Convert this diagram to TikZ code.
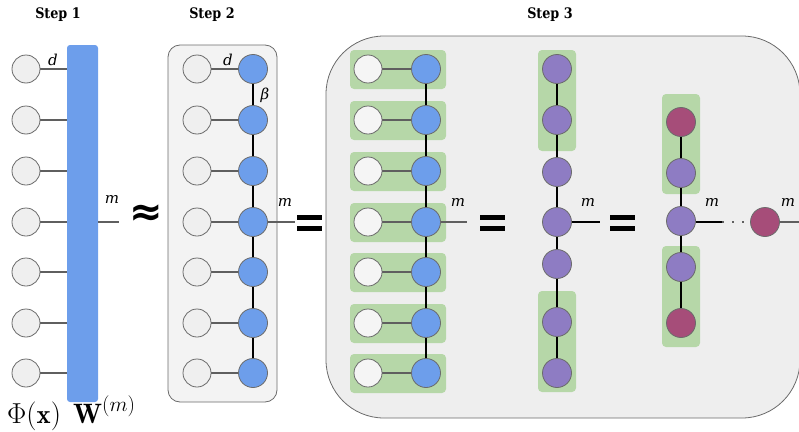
\documentclass[tikz,border=0pt]{standalone}
\usepackage{graphicx}
\usepackage{fontspec}
\usepackage{amsmath}
\newfontfamily\stepfont{DejaVu Serif}[FakeStretch=0.88]
\newfontfamily\labfont{DejaVu Serif}
\newfontfamily\symfont{DejaVu Sans}
\definecolor{cblue}{HTML}{6D9EEB}
\definecolor{cpurple}{HTML}{8E7CC3}
\definecolor{cmaroon}{HTML}{A64D79}
\definecolor{cgreen}{HTML}{B6D7A8}
\definecolor{cgrayfill}{HTML}{EFEFEF}
\definecolor{cwhitefill}{HTML}{F5F5F5}
\definecolor{cbox2}{HTML}{F3F3F3}
\definecolor{cbox3}{HTML}{EEEEEE}
\definecolor{cborder}{HTML}{6B6B6B}
\definecolor{cline}{HTML}{5F5F5F}
\pgfdeclarelayer{bg}
\pgfdeclarelayer{green}
\pgfdeclarelayer{lines}
\pgfsetlayers{bg,green,lines,main}
\begin{document}
\begin{tikzpicture}[x=1pt,y=-1pt,
  circ/.style={circle, draw=cborder, line width=0.8pt, inner sep=0pt, minimum size=29pt},
  gc/.style={circ, fill=cgrayfill, minimum size=28pt},
  wc/.style={circ, fill=cwhitefill, minimum size=28pt},
  bc/.style={circ, fill=cblue},
  pc/.style={circ, fill=cpurple},
  mc/.style={circ, fill=cmaroon},
  gl/.style={draw=cline, line width=2pt},
  bl/.style={draw=black, line width=2.3pt},
  dl/.style={draw=cline, line width=2pt, dash pattern=on 2pt off 8pt},
  greenbox/.style={fill=cgreen, draw=none, rounded corners=4pt, inner sep=0pt},
  lab/.style={font=\labfont\itshape\fontsize{15}{15}\selectfont, inner sep=0pt, anchor=base},
  steplab/.style={font=\stepfont\bfseries\fontsize{14.5}{14.5}\selectfont, inner sep=0pt},
  eqsign/.pic={\fill (-12.5,-8) rectangle (12.5,-3); \fill (-12.5,3) rectangle (12.5,8);}
]
\useasboundingbox (0,0) rectangle (799,431);

% ---------- titles ----------
\node[steplab] (t1) at (58,15) {Step 1};
\node[steplab] (t2) at (212,15) {Step 2};
\node[steplab] (t3) at (550,15) {Step 3};

% ---------- Step 1 ----------
\node[fill=cblue, draw=none, rounded corners=3pt, minimum width=31pt, minimum height=357pt, inner sep=0pt] (W) at (82.5,223.5) {};
\foreach \i/\y in {1/69,2/120,3/171,4/222,5/272,6/323,7/373}{
  \node[gc] (a\i) at (26,\y) {};
  \begin{pgfonlayer}{lines}
    \draw[gl] (a\i) -- (a\i -| W.west);
  \end{pgfonlayer}
}
\coordinate (o1) at (119,222);
\draw[gl] (W.east |- o1) -- (o1);
\node[lab] (d1) at (53,65) {d};
\node[lab] (m1) at (112,203) {m};
\node[inner sep=0pt, anchor=base west, font=\fontsize{23}{23}\selectfont] (phi) at (7,423) {\scalebox{1.16}{$\Phi(\mathbf{x})$}};
\node[inner sep=0pt, anchor=base west, font=\fontsize{23}{23}\selectfont] (wm) at (73,423) {\scalebox{1.22}{$\mathbf{W}^{(m)}$}};
\node[inner sep=0pt, font=\symfont\bfseries\fontsize{40}{40}\selectfont] (apx) at (146,215) {≈};

% ---------- Step 2 ----------
\begin{pgfonlayer}{bg}
\node[fill=cbox2, draw=cborder, line width=0.8pt, rounded corners=12pt, minimum width=109pt, minimum height=357pt, inner sep=0pt] (S2) at (222.5,223.5) {};
\end{pgfonlayer}
\foreach \i/\y in {1/69,2/120,3/171,4/222,5/272,6/323,7/373}{
  \node[gc] (b\i) at (197,\y) {};
  \node[bc] (c\i) at (253,\y) {};
  \begin{pgfonlayer}{lines}
    \draw[gl] (b\i) -- (c\i);
  \end{pgfonlayer}
}
\begin{pgfonlayer}{lines}
\foreach \i/\j in {1/2,2/3,3/4,4/5,5/6,6/7} \draw[bl] (c\i) -- (c\j);
\coordinate (o2) at (295,222);
\draw[gl] (c4) -- (o2);
\end{pgfonlayer}
\node[lab] (d2) at (228,65) {d};
\node[lab] (beta) at (265,99) {β};
\node[lab] (m2) at (285,206) {m};
\pic[black] at (309.5,222.5) {eqsign};

% ---------- Step 3 ----------
\begin{pgfonlayer}{bg}
\node[fill=cbox3, draw=cborder, line width=0.8pt, rounded corners=58pt, minimum width=474pt, minimum height=382pt, inner sep=0pt] (S3) at (563,227) {};
\end{pgfonlayer}
\foreach \i/\y in {1/69,2/120,3/171,4/222,5/272,6/323,7/373}{
  \begin{pgfonlayer}{green}
    \node[greenbox, minimum width=96pt, minimum height=39pt] (g\i) at (398,\y+0.5) {};
  \end{pgfonlayer}
  \node[wc] (e\i) at (368,\y) {};
  \node[bc] (f\i) at (426,\y) {};
  \begin{pgfonlayer}{lines}
    \draw[gl] (e\i) -- (f\i);
  \end{pgfonlayer}
}
\begin{pgfonlayer}{lines}
\foreach \i/\j in {1/2,2/3,3/4,4/5,5/6,6/7} \draw[bl] (f\i) -- (f\j);
\coordinate (o3) at (467,222);
\draw[gl] (f4) -- (o3);
\end{pgfonlayer}
\node[lab] (m3) at (458,206) {m};
\pic[black] at (492.5,222.5) {eqsign};

% purple column
\begin{pgfonlayer}{green}
\node[greenbox, minimum width=38pt, minimum height=101pt] (gp1) at (557,100.5) {};
\node[greenbox, minimum width=38pt, minimum height=101pt] (gp2) at (557,341.5) {};
\end{pgfonlayer}
\foreach \i/\y in {1/69,2/120,3/172,4/222,5/264,6/322,7/373}{
  \node[pc] (p\i) at (557,\y) {};
}
\begin{pgfonlayer}{lines}
\foreach \i/\j in {1/2,2/3,3/4,4/5,5/6,6/7} \draw[bl] (p\i) -- (p\j);
\coordinate (o4) at (600,222);
\draw[bl] (p4) -- (o4);
\end{pgfonlayer}
\node[lab] (m4) at (588,206) {m};
\pic[black] at (622.5,222.5) {eqsign};

% third column
\begin{pgfonlayer}{green}
\node[greenbox, minimum width=38pt, minimum height=100pt] (gq1) at (681,144) {};
\node[greenbox, minimum width=38pt, minimum height=101pt] (gq2) at (681,296.5) {};
\end{pgfonlayer}
\node[mc] (q1) at (681,122) {};
\node[pc] (q2) at (681,173) {};
\node[pc] (q3) at (681,221) {};
\node[pc] (q4) at (681,267) {};
\node[mc] (q5) at (681,323) {};
\node[mc] (r) at (765,222) {};
\begin{pgfonlayer}{lines}
\foreach \i/\j in {1/2,2/3,3/4,4/5} \draw[bl] (q\i) -- (q\j);
\coordinate (o5) at (722,222);
\coordinate (o6) at (799,222);
\draw[bl] (q3.east |- o5) -- (o5);
\draw[dl] (o5) -- (r);
\draw[gl] (r) -- (o6);
\end{pgfonlayer}
\node[lab] (m5) at (712,206) {m};
\node[lab] (m6) at (788,206) {m};
\end{tikzpicture}
\end{document}
